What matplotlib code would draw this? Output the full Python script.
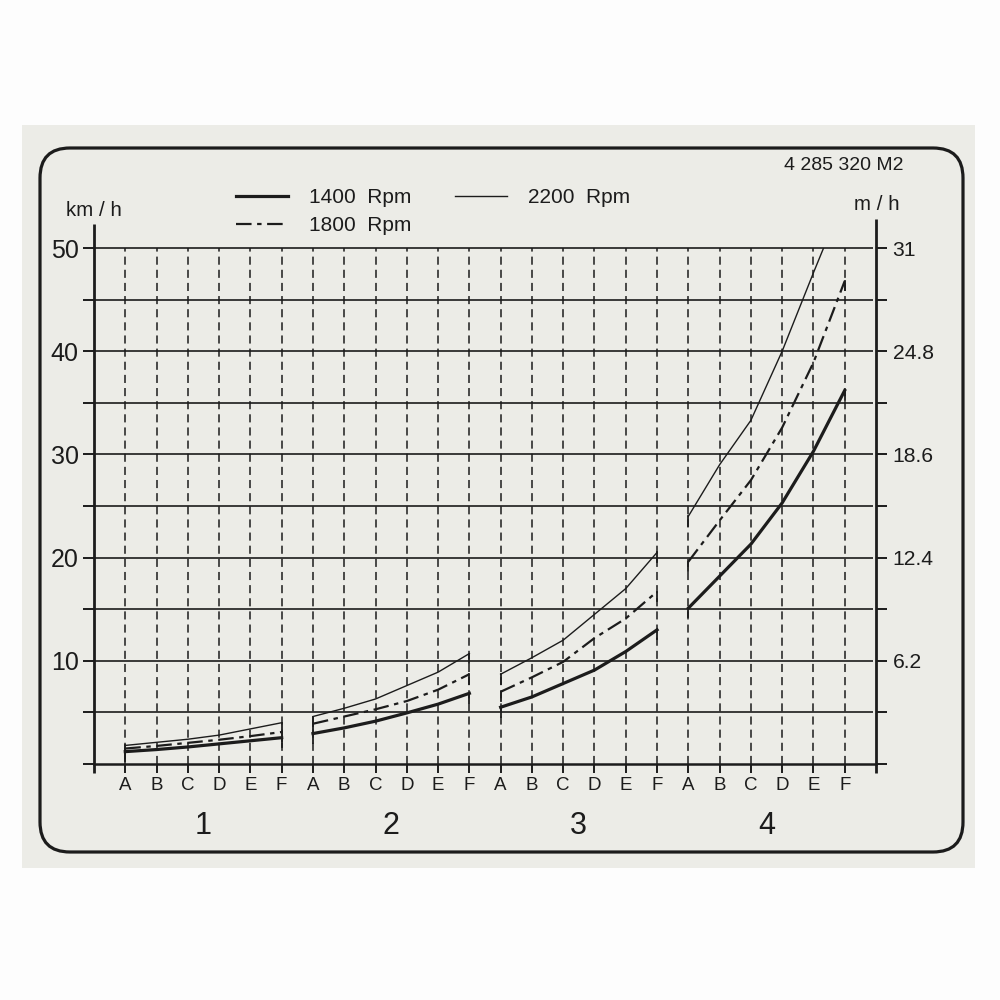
import matplotlib
matplotlib.use("Agg")
import matplotlib.pyplot as plt
from matplotlib import font_manager
from matplotlib.patches import FancyBboxPatch, Rectangle
from matplotlib.lines import Line2D

# groups 1..4, each read at positions A..F
groups = ["1", "2", "3", "4"]
letters = ["A", "B", "C", "D", "E", "F"]
rpm_labels = ["1400  Rpm", "1800  Rpm", "2200  Rpm"]

# speed in km/h, one row per group, columns A..F
speed_1400 = [
    [1.2, 1.4, 1.65, 1.95, 2.25, 2.55],
    [2.95, 3.5, 4.15, 4.95, 5.8, 6.85],
    [5.5, 6.5, 7.8, 9.1, 10.9, 13.0],
    [15.1, 18.2, 21.3, 25.3, 30.3, 36.2],
]
speed_1800 = [
    [1.5, 1.75, 2.05, 2.35, 2.7, 3.1],
    [3.9, 4.6, 5.3, 6.1, 7.2, 8.7],
    [7.0, 8.4, 9.9, 12.2, 14.1, 16.7],
    [19.6, 23.6, 27.5, 32.6, 38.9, 46.8],
]
speed_2200 = [
    [1.8, 2.1, 2.4, 2.8, 3.4, 4.0],
    [4.6, 5.4, 6.3, 7.6, 8.9, 10.7],
    [8.7, 10.3, 12.0, 14.5, 17.0, 20.5],
    [24.0, 29.0, 33.3, 40.0, 47.6, 55.0],
]
kmh_ticks = [0, 5, 10, 15, 20, 25, 30, 35, 40, 45, 50]
kmh_labels = ["", "", "10", "", "20", "", "30", "", "40", "", "50"]
mph_labels = ["", "", "6.2", "", "12.4", "", "18.6", "", "24.8", "", "31"]
part_no = "4 285 320 M2"

ink = "#1c1c1c"
names = {f.name for f in font_manager.fontManager.ttflist}
main_font = "Liberation Sans"
if "Liberation Sans Narrow" in names:
    narrow_font, nscale = "Liberation Sans Narrow", 1.0
else:
    narrow_font, nscale = "Liberation Sans", 0.87
plt.rcParams["font.family"] = [main_font, "DejaVu Sans"]

fig = plt.figure(figsize=(10, 10), dpi=100, facecolor="#fdfdfd")
fig.patches.append(Rectangle((0.022, 0.132), 0.953, 0.743, transform=fig.transFigure,
                             fc="#ecece7", ec="none", zorder=-2))
fig.patches.append(FancyBboxPatch((0.040, 0.148), 0.923, 0.704,
                                  boxstyle="round,pad=0,rounding_size=0.03",
                                  transform=fig.transFigure, fc="none", ec=ink, lw=2.3, zorder=-1))

ax = fig.add_axes([0.094, 0.236, 0.782, 0.516])
ax.patch.set_visible(False)
ax.set_xlim(0, 25)
ax.set_ylim(0, 50)
for s in ax.spines.values():
    s.set_visible(False)

# grid
ax.hlines(kmh_ticks[1:], 0, 24.9, color=ink, lw=1.2, clip_on=False)
xpos = list(range(1, 25))
ax.vlines(xpos, 0, 50, color=ink, lw=1.1, linestyles=(0, (5.3, 3.3)))

# axis lines
ax.plot([0, 0], [-0.9, 52.3], color=ink, lw=2.0, clip_on=False, solid_capstyle="butt")
ax.plot([25, 25], [-0.9, 52.8], color=ink, lw=2.0, clip_on=False, solid_capstyle="butt")
ax.plot([0, 25], [0, 0], color=ink, lw=1.8, clip_on=False)

# ticks
ax.set_yticks(kmh_ticks)
ax.set_yticklabels(kmh_labels)
ax.tick_params(axis="y", direction="out", length=8, width=1.4, color=ink,
               labelsize=18, pad=3, labelcolor=ink)
ax.set_xticks(xpos)
ax.set_xticklabels(letters * 4)
ax.tick_params(axis="x", direction="out", length=6.5, width=1.4, color=ink,
               labelsize=15.5 * nscale, pad=3, labelcolor=ink)
for t in ax.get_xticklabels():
    t.set_fontfamily(narrow_font)

tw = ax.twinx()
tw.set_ylim(0, 50)
for s in tw.spines.values():
    s.set_visible(False)
tw.set_yticks(kmh_ticks)
tw.set_yticklabels(mph_labels)
tw.tick_params(axis="y", direction="out", length=8, width=1.4, color=ink,
               labelsize=17.5 * nscale, pad=4, labelcolor=ink)
for t in tw.get_yticklabels():
    t.set_fontfamily(narrow_font)

# curves, each with a short drop at both ends
clip = Rectangle((0, 0), 25, 50, transform=ax.transData)
styles = [(speed_1400, dict(lw=2.3)),
          (speed_1800, dict(lw=1.6, dashes=(7, 2.5, 2, 2.5))),
          (speed_2200, dict(lw=1.0))]
for g in range(4):
    xs = [g * 6 + 1 + i for i in range(6)]
    for series, kw in styles:
        ys = series[g]
        ln, = ax.plot(xs, ys, color=ink, **kw)
        ln.set_clip_path(clip)
        for i in (0, 5):
            st, = ax.plot([xs[i], xs[i]], [ys[i], ys[i] - 0.9], color=ink, lw=1.3)
            st.set_clip_path(clip)
    ax.text(g * 6 + 3.5, -6.0, groups[g], ha="center", va="center", fontsize=22, color=ink)

# legend
handles = [Line2D([], [], color=ink, lw=2.3),
           Line2D([], [], color=ink, lw=1.6, dashes=(7, 2.5, 2, 2.5)),
           Line2D([], [], color=ink, lw=1.0)]
fig.legend(handles, rpm_labels, loc="upper left", bbox_to_anchor=(0.236, 0.812), ncol=2,
           frameon=False, fontsize=15, handlelength=2.5, handletextpad=1.0,
           columnspacing=2.1, labelspacing=0.45, borderpad=0, borderaxespad=0,
           labelcolor=ink)

fig.text(0.094, 0.790, "km / h", ha="center", va="center", fontsize=17 * nscale,
         family=narrow_font, color=ink)
fig.text(0.877, 0.795, "m / h", ha="center", va="center", fontsize=17 * nscale,
         family=narrow_font, color=ink)
fig.text(0.844, 0.834, part_no, ha="center", va="center", fontsize=14, color=ink)

fig.savefig("out.png", dpi=100, facecolor=fig.get_facecolor())
